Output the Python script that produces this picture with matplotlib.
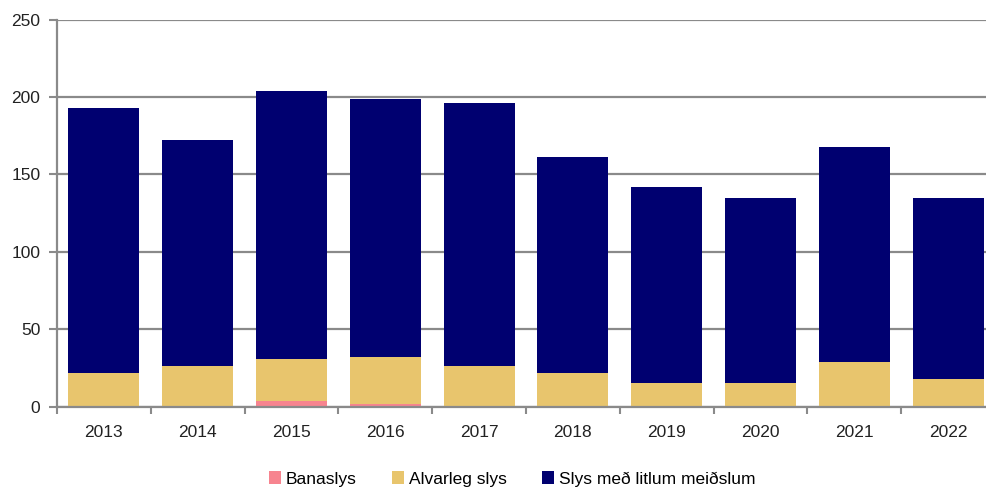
import matplotlib
matplotlib.use("Agg")
import matplotlib.pyplot as plt
import numpy as np

plt.rcParams["font.family"] = ["Liberation Sans", "DejaVu Sans"]

years = ["2013", "2014", "2015", "2016", "2017", "2018", "2019", "2020", "2021", "2022"]
banaslys = [0, 0, 4, 2, 0, 0, 0, 0, 0, 0]
alvarleg = [22, 26, 27, 30, 26, 22, 15, 15, 29, 18]
litlum = [171, 146, 173, 167, 170, 139, 127, 120, 139, 117]

labels = ["Banaslys", "Alvarleg slys", "Slys með litlum meiðslum"]
colors = ["#F7848F", "#E8C56D", "#000070"]
GRAY = "#8A8A8A"

fig = plt.figure(figsize=(9.86, 4.9), dpi=100)
ax = fig.add_axes([57 / 986, 0.170, 938 / 986, 0.790])

x = np.arange(len(years))
w = 0.755
bottom = np.zeros(len(years))
for vals, lab, col in zip([banaslys, alvarleg, litlum], labels, colors):
    ax.bar(x, vals, w, bottom=bottom, color=col, label=lab, zorder=3)
    bottom += np.array(vals)

ax.set_ylim(0, 250)
ax.set_yticks(range(0, 251, 50))
ax.set_xlim(-0.5, len(years) - 0.5)
ax.set_xticks(x)
ax.set_xticklabels(years)
ax.set_xticks(np.arange(-0.5, len(years), 1), minor=True)
ax.tick_params(axis="x", which="major", length=0, pad=13, labelsize=12.5, colors="#222222")
ax.tick_params(axis="x", which="minor", length=5, width=1.5, color=GRAY)
ax.tick_params(axis="y", length=6, width=1.5, color=GRAY, pad=6, labelsize=12.5, labelcolor="#222222")

ax.yaxis.grid(True, color=GRAY, linewidth=1.6, zorder=0)
ax.set_axisbelow(True)
for s in ["top", "right"]:
    ax.spines[s].set_visible(False)
for s in ["left", "bottom"]:
    ax.spines[s].set_color(GRAY)
    ax.spines[s].set_linewidth(1.6)
    ax.spines[s].set_zorder(4)

ax.legend(loc="center", bbox_to_anchor=(512 / 986, 11 / 490), bbox_transform=fig.transFigure,
          ncol=3, frameon=False, fontsize=12.5, handlelength=0.7, handleheight=0.7,
          handletextpad=0.3, columnspacing=2.0)

fig.savefig("out.png", dpi=100)
